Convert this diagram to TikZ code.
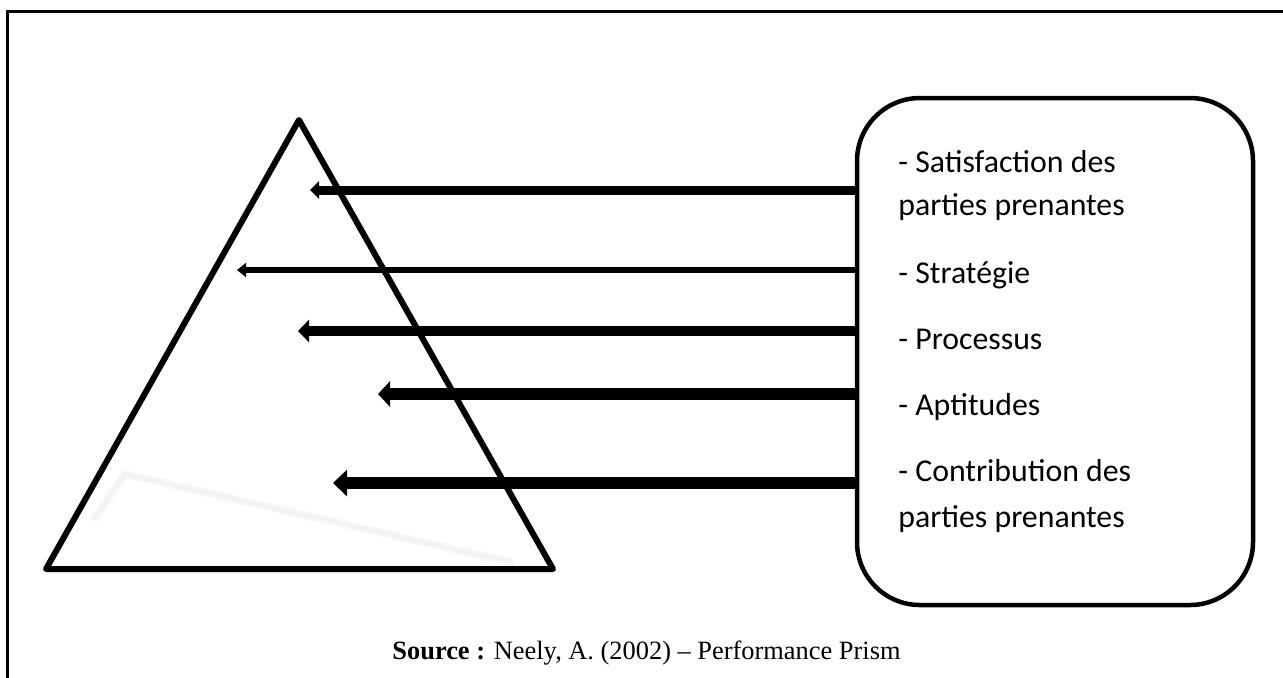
\documentclass[tikz,border=0pt]{standalone}
\usepackage{fontspec}
\setmainfont{Liberation Serif}
\newfontfamily\carlito{Carlito}
\usetikzlibrary{arrows.meta}

\tikzset{
  frameline/.style={line width=1.5pt, line cap=rect},
  prism/.style={line width=3pt, line join=round},
  listbox/.style={draw, line width=2.25pt, rounded corners=31.5pt,
    minimum width=198pt, minimum height=253.5pt, inner sep=0pt},
  item/.style={anchor=base west, inner sep=0pt,
    font=\carlito\fontsize{15.9}{20}\selectfont},
  source/.style={anchor=base, inner sep=0pt, font=\fontsize{13.2}{15}\selectfont},
  feed/.style={line cap=butt},
}

\begin{document}
\begin{tikzpicture}[x=0.5pt, y=-0.5pt]
\useasboundingbox (0,0) rectangle (1283,677);

% open frame: top and left rules only
\draw[frameline] (1290,11) -- (7,11) -- (7,690);

% faint shadow inside the prism
\draw[black!3, line width=4pt, line cap=round, line join=round]
  (95,518) -- (125,474) -- (510,562);
\draw[black!5, line width=1.5pt, line cap=round, line join=round]
  (95,518) -- (125,474) -- (510,562);

% the prism
\coordinate (apex) at (299,120);
\coordinate (bl) at (46,569);
\coordinate (br) at (553,569);
\draw[prism] (apex) -- (bl) -- (br) -- cycle;

% list of facets
\node[listbox] (box) at (1055,351.5) {};

\node[item] (t1a) at (898,172) {- Satisfaction des};
\node[item] (t1b) at (898,215) {parties prenantes};
\node[item] (t2)  at (898,283) {- Stratégie};
\node[item] (t3)  at (898,349) {- Processus};
\node[item] (t4)  at (898,415) {- Aptitudes};
\node[item] (t5a) at (898,481) {- Contribution des};
\node[item] (t5b) at (898,527) {parties prenantes};

% arrow tips inside the prism
\coordinate (e1) at (310,190);
\coordinate (e2) at (237,270);
\coordinate (e3) at (298,331);
\coordinate (e4) at (378,394);
\coordinate (e5) at (333,483);

\draw[feed, line width=4.5pt, -{Triangle[length=4.5pt, width=8.5pt]}]
  (box.west |- e1) -- (e1);
\draw[feed, line width=3pt, -{Triangle[length=4.5pt, width=7pt]}]
  (box.west |- e2) -- (e2);
\draw[feed, line width=5pt, -{Triangle[length=5.5pt, width=11pt]}]
  (box.west |- e3) -- (e3);
\draw[feed, line width=6pt, -{Triangle[length=6pt, width=12.5pt]}]
  (box.west |- e4) -- (e4);
\draw[feed, line width=6pt, -{Triangle[length=7pt, width=13pt]}]
  (box.west |- e5) -- (e5);

\node[source] (src) at (646.5,659)
  {\textbf{Source :} Neely, A. (2002) – Performance Prism};
\end{tikzpicture}
\end{document}
